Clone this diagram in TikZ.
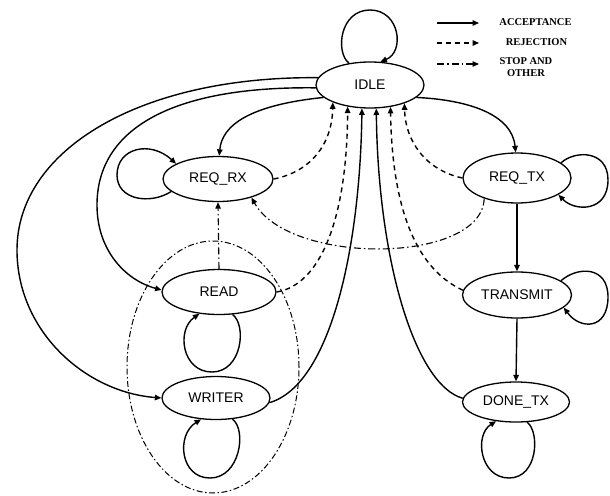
\documentclass[tikz,border=0pt]{standalone}
\usepackage{fontspec}
\setmainfont{Liberation Sans}
\newfontfamily\legfont{Liberation Serif}
\usetikzlibrary{arrows.meta,shapes.geometric}
\begin{document}
\begin{tikzpicture}[x=1pt,y=-1pt,
  state/.style={ellipse, draw, line width=1.3pt, inner sep=0pt, font=\fontsize{14}{16}\selectfont},
  tip/.style={-{Triangle[length=6.5pt,width=5.5pt]}},
  acc/.style={line width=1.4pt, tip},
  rej/.style={line width=1.4pt, tip, dash pattern=on 5pt off 4pt},
  stp/.style={line width=1.1pt, tip, dash pattern=on 7pt off 3pt on 1.5pt off 3pt},
  grpstyle/.style={ellipse, draw, line width=1pt, dash pattern=on 6pt off 2.5pt on 1.5pt off 2.5pt},
  legtext/.style={font=\legfont\bfseries\fontsize{10.5}{12}\selectfont, inner sep=0pt, align=center}
]
\useasboundingbox (0,0) rectangle (610,495);

% states
\node[state, minimum width=108pt, minimum height=46pt] (idle) at (370,85) {IDLE};
\node[state, minimum width=110pt, minimum height=45pt] (reqrx) at (218,179) {REQ\_RX};
\node[state, minimum width=108pt, minimum height=50pt] (reqtx) at (517,178) {REQ\_TX};
\node[state, minimum width=109pt, minimum height=46pt] (transmit) at (517,295) {TRANSMIT};
\node[state, minimum width=107pt, minimum height=40pt] (donetx) at (516,402) {DONE\_TX};
\node[state, minimum width=114pt, minimum height=45pt] (read) at (219,292) {READ};
\node[state, minimum width=108pt, minimum height=43pt] (writer) at (216,398) {WRITER};
\node[grpstyle, minimum width=172pt, minimum height=252pt] (grp) at (213,367) {};

% acceptance
\draw[acc] (idle.195) .. controls (250,105) and (222,125) .. (reqrx.87);
\draw[acc] (idle.183) .. controls (170,86) and (97,130) .. (97,205) .. controls (97,250) and (125,280) .. (read.178);
\draw[acc] (idle.172) .. controls (140,76) and (17,150) .. (17,250) .. controls (17,331) and (85,392) .. (writer.west);
\draw[acc] (idle.-15) .. controls (470,100) and (512,115) .. (reqtx.93);
\draw[acc] (reqtx.south) -- (transmit.north);
\draw[acc] (transmit.south) -- (donetx.north);
\draw[acc] (writer.-5) .. controls (330,385) and (360,250) .. (idle.-109);
\draw[acc] (donetx.176) .. controls (415,385) and (378,260) .. (idle.-75);

% rejection
\draw[rej] (reqrx.east) .. controls (310,172) and (332,145) .. (idle.-155);
\draw[rej] (read.east) .. controls (320,285) and (347,220) .. (idle.-136);
\draw[rej] (transmit.175) .. controls (412,267) and (392,200) .. (idle.-47);
\draw[rej] (reqtx.west) .. controls (425,170) and (405,140) .. (idle.-28);

% stop and other
\draw[stp] (read.north) -- (reqrx.south);
\draw[stp] (reqtx.212) .. controls (482,264) and (290,266) .. (reqrx.-29);

% self loops
\draw[acc] (idle.134) .. controls (335,52) and (340,10) .. (370,10) .. controls (400,10) and (405,52) .. (idle.66);
\draw[acc] (reqrx.195) .. controls (150,205) and (117,200) .. (117,175) .. controls (117,148) and (150,140) .. (reqrx.160);
\draw[acc] (reqtx.19) .. controls (575,150) and (608,150) .. (608,180) .. controls (608,212) and (575,212) .. (reqtx.-22);
\draw[acc] (transmit.18) .. controls (578,266) and (608,266) .. (608,297) .. controls (608,330) and (580,330) .. (transmit.-15);
\draw[acc] (donetx.-61) .. controls (540,432) and (538,478) .. (509,478) .. controls (480,478) and (474,435) .. (donetx.-136);
\draw[acc] (read.-59) .. controls (247,325) and (242,372) .. (212,372) .. controls (182,372) and (176,330) .. (read.-132);
\draw[acc] (writer.-52) .. controls (247,430) and (240,478) .. (210,478) .. controls (180,478) and (176,435) .. (writer.-125);

% legend
\coordinate (la1) at (437,23); \coordinate (lb1) at (479,23);
\coordinate (la2) at (437,43); \coordinate (lb2) at (479,43);
\coordinate (la3) at (437,64); \coordinate (lb3) at (479,64);
\draw[acc] (la1) -- (lb1);
\draw[rej] (la2) -- (lb2);
\draw[stp] (la3) -- (lb3);
\node[legtext] (lt1) at (535.5,22) {ACCEPTANCE};
\node[legtext] (lt2) at (536.5,42) {REJECTION};
\node[legtext] (lt3) at (526,67) {STOP AND\\OTHER};
\end{tikzpicture}
\end{document}
